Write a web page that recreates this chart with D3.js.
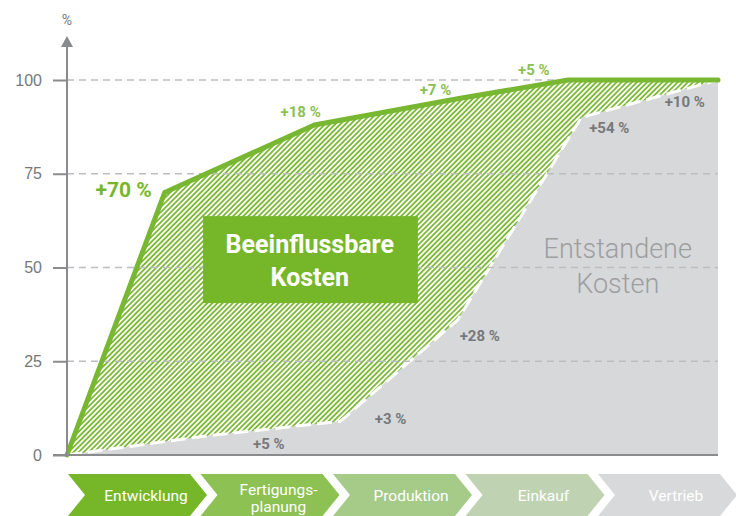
<!DOCTYPE html>
<html>
<head>
<meta charset="UTF-8">
<script src="https://d3js.org/d3.v7.min.js"></script>
<style>
    body { margin: 0; background: #fff; }
    svg { display: block; font-family: Roboto, "Open Sans", sans-serif; }
    .tick text { fill: #77787a; font-size: 16px; }
    .tick line { stroke: #8a8b8d; stroke-width: 2; }
</style>
</head>
<body>
<svg id="chart" width="736" height="516"></svg>
<script>
// curves: x is position along the product life (0..100), value in %
const influenceX = [0, 15, 38, 60, 77, 100];
const influenceVal = [0, 70, 88, 95, 100, 100];
const incurredX = [0, 21, 42, 60, 79, 100];
const incurredVal = [0, 5, 9, 36, 90, 100];
const yTicks = [0, 25, 50, 75, 100];

// annotations [text, x, value]
const influenceLabels = [["+18 %", 35.9, 90.1], ["+7 %", 56.6, 96], ["+5 %", 71.7, 101.3]];
const incurredLabels = [["+5 %", 31, 1.6], ["+3 %", 49.7, 8.3], ["+28 %", 63.4, 30.4], ["+54 %", 83.3, 85.9], ["+10 %", 94.9, 92.8]];
const phases = [["Entwicklung"], ["Fertigungs-", "planung"], ["Produktion"], ["Einkauf"], ["Vertrieb"]];
const phaseColors = ["#76b72a", "#8dc153", "#a6ca88", "#bfd3b2", "#d8d9db"];

const svg = d3.select("#chart");
const x = d3.scaleLinear().domain([0, 100]).range([67, 718]);
const y = d3.scaleLinear().domain([0, 100]).range([455, 80]);

const green = "#78b731";
const axisGray = "#8a8b8d";

// hatch pattern
const defs = svg.append("defs");
const pat = defs.append("pattern")
    .attr("id", "hatch")
    .attr("patternUnits", "userSpaceOnUse")
    .attr("width", 3.6).attr("height", 3.6)
    .attr("patternTransform", "rotate(45)");
pat.append("rect").attr("width", 3.6).attr("height", 3.6).attr("fill", "#fff");
pat.append("line").attr("x1", 0.9).attr("y1", 0).attr("x2", 0.9).attr("y2", 3.6)
    .attr("stroke", "#7cba36").attr("stroke-width", 1.8);

const influence = influenceX.map((d, i) => [d, influenceVal[i]]);
const incurred = incurredX.map((d, i) => [d, incurredVal[i]]);

const area = d3.area().x(d => x(d[0])).y0(y(0)).y1(d => y(d[1]));
const line = d3.line().x(d => x(d[0])).y(d => y(d[1]));

svg.append("path").datum(influence).attr("d", area).attr("fill", "url(#hatch)");
svg.append("path").datum(incurred).attr("d", area).attr("fill", "#d7d8da");
svg.append("path").datum(incurred).attr("d", line)
    .attr("fill", "none").attr("stroke", "#fff").attr("stroke-width", 3)
    .attr("stroke-dasharray", "15,6");

// gridlines
svg.append("g").selectAll("line")
    .data(yTicks.filter(d => d > 0))
    .join("line")
    .attr("x1", x(0)).attr("x2", x(100))
    .attr("y1", d => y(d)).attr("y2", d => y(d))
    .attr("stroke", "#bdbdbf").attr("stroke-width", 1.5)
    .attr("stroke-dasharray", "7,5");

// influence line
svg.append("path").datum(influence).attr("d", line)
    .attr("fill", "none").attr("stroke", green).attr("stroke-width", 5)
    .attr("stroke-linejoin", "round").attr("stroke-linecap", "round");

// y axis
const yAxis = svg.append("g")
    .attr("transform", `translate(${x(0)},0)`)
    .call(d3.axisLeft(y).tickValues(yTicks).tickSize(14).tickPadding(11));
yAxis.select(".domain").remove();

svg.append("line")
    .attr("x1", x(0)).attr("x2", x(0)).attr("y1", y(0)).attr("y2", 45)
    .attr("stroke", axisGray).attr("stroke-width", 2);
svg.append("path")
    .attr("d", `M${x(0) - 6},47 L${x(0)},36 L${x(0) + 6},47 Z`)
    .attr("fill", axisGray);
svg.append("text").attr("x", x(0)).attr("y", 25)
    .attr("text-anchor", "middle").attr("fill", "#77787a")
    .attr("font-size", 14).text("%");

// baseline
svg.append("line")
    .attr("x1", x(0) - 14).attr("x2", x(100)).attr("y1", y(0)).attr("y2", y(0))
    .attr("stroke", axisGray).attr("stroke-width", 2);

// labels
svg.append("text").attr("x", x(8.7)).attr("y", y(68.8))
    .attr("text-anchor", "middle").attr("fill", "#76b72a")
    .attr("font-size", 21).attr("font-weight", "bold").text("+70 %");

svg.append("g").selectAll("text")
    .data(influenceLabels).join("text")
    .attr("x", d => x(d[1])).attr("y", d => y(d[2]))
    .attr("text-anchor", "middle").attr("fill", "#8cc152")
    .attr("font-size", 15).attr("font-weight", "bold")
    .text(d => d[0]);

svg.append("g").selectAll("text")
    .data(incurredLabels).join("text")
    .attr("x", d => x(d[1])).attr("y", d => y(d[2]))
    .attr("text-anchor", "middle").attr("fill", "#77787a")
    .attr("font-size", 15).attr("font-weight", "bold")
    .text(d => d[0]);

// green box
svg.append("rect")
    .attr("x", x(20.9)).attr("y", y(63.7))
    .attr("width", x(53.9) - x(20.9)).attr("height", y(40.5) - y(63.7))
    .attr("fill", "#76b72a");
svg.append("text").attr("x", x(37.3)).attr("text-anchor", "middle")
    .attr("fill", "#fff").attr("font-size", 25).attr("font-weight", "bold")
    .selectAll("tspan").data(["Beeinflussbare", "Kosten"]).join("tspan")
    .attr("x", x(37.3)).attr("y", (d, i) => 253 + i * 33).text(d => d);

svg.append("text").attr("text-anchor", "middle")
    .attr("fill", "#9d9ea0").attr("font-size", 27).attr("font-weight", 300)
    .selectAll("tspan").data(["Entstandene", "Kosten"]).join("tspan")
    .attr("x", x(84.6)).attr("y", (d, i) => 258 + i * 35).text(d => d);

// phase chevrons
const cx = d3.scaleLinear().domain([0, 1]).range([68, 200.5]);
const chevTop = 474, chevBot = 516, chevMid = 495, body = 122, tip = 17;
const chev = svg.append("g").selectAll("g").data(phases).join("g");
chev.append("path")
    .attr("d", (d, i) => {
        const s = cx(i);
        return `M${s},${chevTop} L${s + body},${chevTop} L${s + body + tip},${chevMid} L${s + body},${chevBot} L${s},${chevBot} L${s + tip},${chevMid} Z`;
    })
    .attr("fill", (d, i) => phaseColors[i]);
chev.append("text")
    .attr("text-anchor", "middle").attr("fill", "#fff").attr("font-size", 15.5)
    .selectAll("tspan").data((d, i) => d.map(t => [t, i, d.length])).join("tspan")
    .attr("x", d => cx(d[1]) + (tip + body + tip) / 2)
    .attr("y", (d, j) => d[2] === 1 ? 501 : 495 + j * 17)
    .text(d => d[0]);
</script>
</body>
</html>
